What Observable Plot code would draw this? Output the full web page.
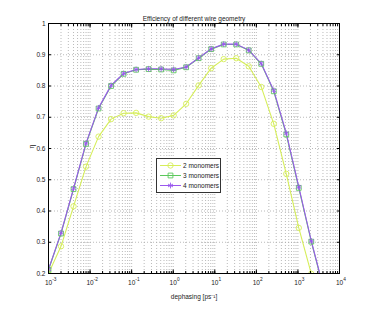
<!DOCTYPE html>
<html><head><meta charset="utf-8">
<script src="https://cdn.jsdelivr.net/npm/d3@7"></script>
<script src="https://cdn.jsdelivr.net/npm/@observablehq/plot@0.6"></script>
<style>body{margin:0;background:#fff} svg{display:block}</style>
</head><body><div id="chart"></div>
<script>
const titleText = "Efficiency of different wire geometry";
const xLabelText = "dephasing [ps⁻¹]";
const yLabelText = "η";
const dephasing = [0.001, 0.002, 0.004, 0.008, 0.016, 0.032, 0.064, 0.128, 0.256, 0.512, 1.024, 2.048, 4.096, 8.192, 16.384, 32.768, 65.536, 131.072, 262.144, 524.288, 1048.576, 2097.152, 4194.304];
const twoMonomers = [0.200, 0.287, 0.415, 0.542, 0.638, 0.694, 0.713, 0.714, 0.702, 0.697, 0.706, 0.743, 0.802, 0.857, 0.886, 0.889, 0.863, 0.797, 0.679, 0.519, 0.346, 0.199, 0.04];
const threeMonomers = [0.212, 0.328, 0.470, 0.615, 0.728, 0.800, 0.839, 0.852, 0.854, 0.853, 0.850, 0.860, 0.889, 0.918, 0.933, 0.933, 0.914, 0.871, 0.783, 0.645, 0.474, 0.302, 0.148];
const fourMonomers = [0.213, 0.330, 0.472, 0.617, 0.730, 0.802, 0.840, 0.853, 0.855, 0.855, 0.853, 0.861, 0.890, 0.919, 0.934, 0.934, 0.915, 0.872, 0.786, 0.649, 0.477, 0.304, 0.150];
const seriesNames = ["2 monomers", "3 monomers", "4 monomers"];
const seriesColors = ["#d6ee5a", "#5cc85c", "#9a58ee"];
const seriesSymbols = ["circle", "square", "asterisk"];
const yTicks = [0.2, 0.3, 0.4, 0.5, 0.6, 0.7, 0.8, 0.9, 1];
const xDecades = [0.001, 0.01, 0.1, 1, 10, 100, 1000, 10000];
const xExponents = ["-3", "-2", "-1", "0", "1", "2", "3", "4"];

const seriesValues = [twoMonomers, threeMonomers, fourMonomers];
const rows = [];
seriesNames.forEach((s, i) => seriesValues[i].forEach((v, j) => rows.push({series: s, x: dephasing[j], y: v})));
const xMinor = [];
xDecades.slice(0, -1).forEach(d => { for (let m = 1; m <= 9; m++) xMinor.push(d * m); });
xMinor.push(xDecades[xDecades.length - 1]);

const font = "'Liberation Sans', Arial, Helvetica, sans-serif";
const gridStyle = {stroke: "#a8a8a8", strokeDasharray: "1,2", strokeWidth: 0.8};

const chart = Plot.plot({
  width: 374, height: 312,
  marginLeft: 48, marginRight: 35, marginTop: 23, marginBottom: 39,
  style: {fontFamily: font, fontSize: "6.5px", background: "#fff", color: "#000"},
  x: {type: "log", domain: [1e-3, 1e4], label: null},
  y: {domain: [0.2, 1], label: null},
  color: {domain: seriesNames, range: seriesColors},
  symbol: {domain: seriesNames, range: seriesSymbols},
  marks: [
    Plot.ruleX(xMinor, {x: d => d, ...gridStyle}),
    Plot.ruleY(yTicks, {y: d => d, ...gridStyle}),
    Plot.line(rows, {x: "x", y: "y", z: "series", stroke: "series", strokeWidth: 1.1, clip: true}),
    Plot.dot(rows, {x: "x", y: "y", stroke: "series", symbol: "series", r: 2.7, strokeWidth: 0.9, clip: true}),
    Plot.frame({stroke: "#000", strokeWidth: 1}),
    Plot.axisY(yTicks, {tickSize: -3, tickPadding: 6, tickFormat: d => String(d), fill: "#222"}),
    Plot.axisY(yTicks, {anchor: "right", tickSize: -3, tickFormat: () => ""}),
    Plot.axisX(xMinor, {tickSize: -2, tickFormat: () => ""}),
    Plot.axisX(xMinor, {anchor: "top", tickSize: -2, tickFormat: () => ""}),
    Plot.axisX(xDecades, {tickSize: -3.5, tickFormat: () => ""}),
    Plot.axisX(xDecades, {anchor: "top", tickSize: -3.5, tickFormat: () => ""}),
    Plot.text(xDecades, {x: d => d, frameAnchor: "bottom", dy: 11, text: () => "10", fontSize: 6.5, fill: "#222"}),
    Plot.text(xDecades, {x: d => d, frameAnchor: "bottom", dy: 7.5, dx: 3.7, textAnchor: "start", text: (d, i) => xExponents[i], fontSize: 4.8, fill: "#222"}),
    Plot.text([titleText], {frameAnchor: "top", dy: -7, text: d => d, fontSize: 6.5, fill: "#222"}),
    Plot.text([xLabelText], {frameAnchor: "bottom", dy: 25, text: d => d, fontSize: 6.5, fill: "#222"}),
    Plot.text([yLabelText], {frameAnchor: "left", dx: -17, rotate: -90, text: d => d, fontSize: 7, fill: "#222"})
  ]
});
document.getElementById("chart").appendChild(chart);

// legend box
const svg = d3.select(chart);
const lg = svg.append("g").attr("font-family", font).attr("font-size", 6.5).attr("text-anchor", "start");
lg.append("rect").attr("x", 156.5).attr("y", 158.5).attr("width", 64).attr("height", 34)
  .attr("fill", "#fff").attr("stroke", "#333").attr("stroke-width", 1);
const symMap = {circle: d3.symbolCircle, square: d3.symbolSquare, asterisk: d3.symbolAsterisk};
seriesNames.forEach((s, i) => {
  const yy = 165.5 + 10 * i;
  lg.append("line").attr("x1", 160).attr("x2", 181).attr("y1", yy).attr("y2", yy)
    .attr("stroke", seriesColors[i]).attr("stroke-width", 1);
  lg.append("path").attr("d", d3.symbol(symMap[seriesSymbols[i]], Math.PI * 2.7 * 2.7)())
    .attr("transform", `translate(170.5,${yy})`).attr("fill", "none")
    .attr("stroke", seriesColors[i]).attr("stroke-width", 0.9);
  lg.append("text").attr("x", 183).attr("y", yy).attr("dy", "0.32em").attr("fill", "#222")
    .attr("text-anchor", "start").text(s);
});
</script>
</body></html>
